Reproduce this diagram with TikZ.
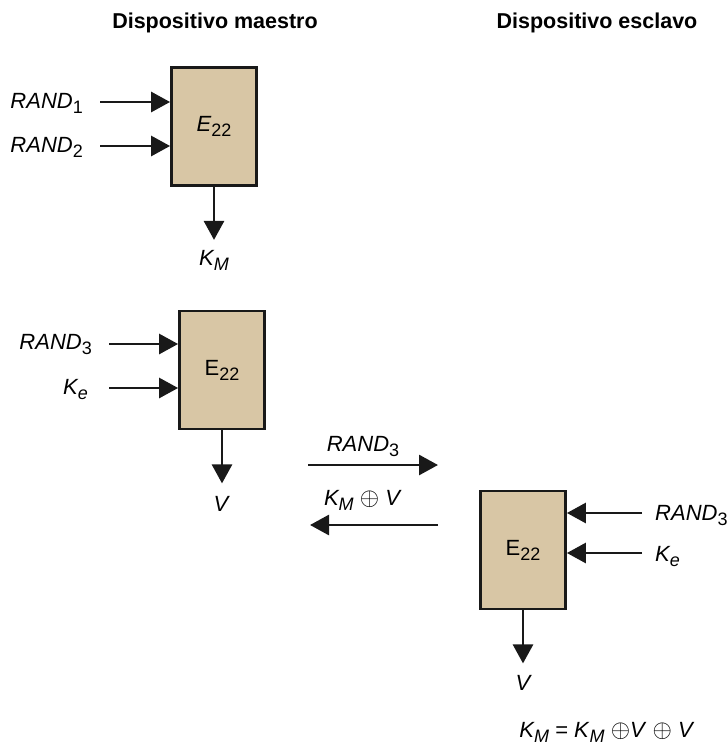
\documentclass[tikz,border=0pt]{standalone}
\usepackage{fontspec}
\setmainfont{Liberation Sans}
\usetikzlibrary{arrows.meta, positioning}
\definecolor{boxfill}{RGB}{216,198,165}
\newcommand{\lowsub}[1]{\raisebox{-5pt}{\fontsize{18}{20}\selectfont #1}}
\newcommand{\KMsym}{\textit{K}\lowsub{\textit{M}}}
\newcommand{\xorsym}{\scalebox{1.2}{$\oplus$}}

\begin{document}
\begin{tikzpicture}[x=1pt, y=-1pt,
    block/.style={draw=black!90, line width=2.8pt, fill=boxfill, minimum width=85pt, minimum height=118pt, inner sep=0pt, font=\fontsize{22}{24}\selectfont},
    sig/.style={draw=black!90, line width=2.8pt, -{Triangle[length=19pt,width=20pt]}},
    lbl/.style={inner sep=0pt, font=\fontsize{22}{24}\selectfont\itshape},
    title/.style={font=\fontsize{21.5}{24}\selectfont\bfseries}]
    \useasboundingbox (0,0) rectangle (727,752);
    \node[title, anchor=base] (tm) at (215,29) {Dispositivo maestro};
    \node[title, anchor=base] (te) at (597,29) {Dispositivo esclavo};

    % maestro: K_M
    \node[block] (e1) at (214,126.5) {\textit{E}\lowsub{22}};
    \coordinate (in1) at (100,102);
    \coordinate (in2) at (100,146);
    \node[lbl, anchor=base east] (rand1) at (83,108) {RAND\lowsub{\upshape 1}};
    \node[lbl, anchor=base east] (rand2) at (83,152) {RAND\lowsub{\upshape 2}};
    \draw[sig] (in1) -- (in1 -| e1.west);
    \draw[sig] (in2) -- (in2 -| e1.west);
    \node[lbl, anchor=base] (km) at (214,265) {\KMsym};
    \draw[sig] (e1.south) -- ++(0,53);

    % maestro: V
    \node[block] (e2) at (222,370) {E\lowsub{22}};
    \coordinate (in3) at (109,344);
    \coordinate (in4) at (109,388);
    \node[lbl, anchor=base east] (rand3) at (92,349) {RAND\lowsub{\upshape 3}};
    \node[lbl, anchor=base east] (ke) at (88,394) {K\lowsub{e}};
    \draw[sig] (in3) -- (in3 -| e2.west);
    \draw[sig] (in4) -- (in4 -| e2.west);
    \node[lbl, anchor=base] (v1) at (221,511) {V};
    \draw[sig] (e2.south) -- ++(0,53);

    % intercambio
    \coordinate (s1) at (308,465);
    \coordinate (s2) at (438,465);
    \coordinate (s3) at (438,525);
    \coordinate (s4) at (310,525);
    \draw[sig] (s1) -- (s2);
    \draw[sig] (s3) -- (s4);
    \node[lbl, anchor=base] (rand3m) at (363,451) {RAND\lowsub{\upshape 3}};
    \node[lbl, anchor=base] (kmv) at (362,505) {\KMsym{} \xorsym{} V};

    % esclavo
    \node[block] (e3) at (523,550) {E\lowsub{22}};
    \coordinate (in5) at (642,513);
    \coordinate (in6) at (642,553);
    \node[lbl, anchor=base west] (rand3e) at (655,520) {RAND\lowsub{\upshape 3}};
    \node[lbl, anchor=base west] (kee) at (655,561) {K\lowsub{e}};
    \draw[sig] (in5) -- (in5 -| e3.east);
    \draw[sig] (in6) -- (in6 -| e3.east);
    \node[lbl, anchor=base] (v2) at (523,690) {V};
    \draw[sig] (e3.south) -- ++(0,53);
    \node[lbl, anchor=base] (eq) at (607,737) {\KMsym{} \upshape= \KMsym{} \xorsym\textit{V} \xorsym{} \textit{V}};
\end{tikzpicture}
\end{document}
